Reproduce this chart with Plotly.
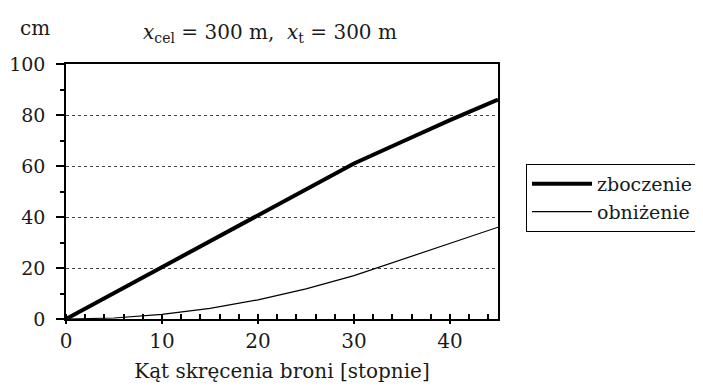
import plotly.graph_objects as go

angle = [0, 5, 10, 15, 20, 25, 30, 35, 40, 45]
zboczenie = [0, 10.2, 20.5, 30.8, 41, 51, 61, 69.5, 78, 86]
obnizenie = [0, 0.4, 1.8, 4.2, 7.5, 11.8, 17, 23.3, 29.7, 36]

x_ticks = [0, 10, 20, 30, 40]
y_ticks = [0, 20, 40, 60, 80, 100]

FONT = "DejaVu Serif"
FS = 20
COL = "#1a1a1a"

fig = go.Figure()
fig.add_trace(go.Scatter(x=angle, y=zboczenie, mode="lines", name="zboczenie",
                         line=dict(color="black", width=4)))
fig.add_trace(go.Scatter(x=angle, y=obnizenie, mode="lines", name="obniżenie",
                         line=dict(color="black", width=1.2)))

fig.update_layout(
    width=703, height=387,
    margin=dict(l=58, r=213, t=56, b=76, autoexpand=False),
    paper_bgcolor="white", plot_bgcolor="white",
    font=dict(family=FONT, size=FS, color=COL),
    title=dict(text="<i>x</i><sub>cel</sub> = 300 m,  <i>x</i><sub>t</sub> = 300 m",
               x=262/703, xanchor="center", y=1 - 24/387, yanchor="middle",
               font=dict(family=FONT, size=FS, color=COL)),
    legend=dict(x=(518 - 58) / 432, xanchor="left", y=(311 - 156) / 255, yanchor="top",
                bordercolor="black", borderwidth=1, bgcolor="white",
                font=dict(family=FONT, size=19, color=COL),
                tracegroupgap=0, itemwidth=60),
    xaxis=dict(range=[0, 45], tickvals=x_ticks, showgrid=False, zeroline=False,
               showline=True, linecolor="black", linewidth=1.5, mirror=True,
               ticks="outside", ticklen=3, tickcolor="black", tickwidth=1.5,
               minor=dict(dtick=2, ticks="inside", ticklen=5, tickcolor="black", showgrid=False),
               tickfont=dict(family=FONT, size=FS, color=COL),
               title=dict(text="Kąt skręcenia broni [stopnie]", standoff=12,
                          font=dict(family=FONT, size=FS, color=COL))),
    yaxis=dict(range=[0, 100], tickvals=y_ticks, showgrid=True, gridcolor="#444",
               griddash="dot", gridwidth=1, zeroline=False,
               showline=True, linecolor="black", linewidth=1.5, mirror=True,
               ticks="outside", ticklen=8, tickcolor="black", tickwidth=1.5,
               ticklabelstandoff=7,
               minor=dict(dtick=10, ticks="outside", ticklen=4, tickcolor="black", showgrid=False),
               tickfont=dict(family=FONT, size=19, color=COL)),
)

fig.add_annotation(text="cm", xref="paper", yref="paper", x=(10 - 58) / 432, y=1 + 36/255,
                   xanchor="left", yanchor="middle", showarrow=False,
                   font=dict(family=FONT, size=FS, color=COL))

fig.write_html("out.html")
